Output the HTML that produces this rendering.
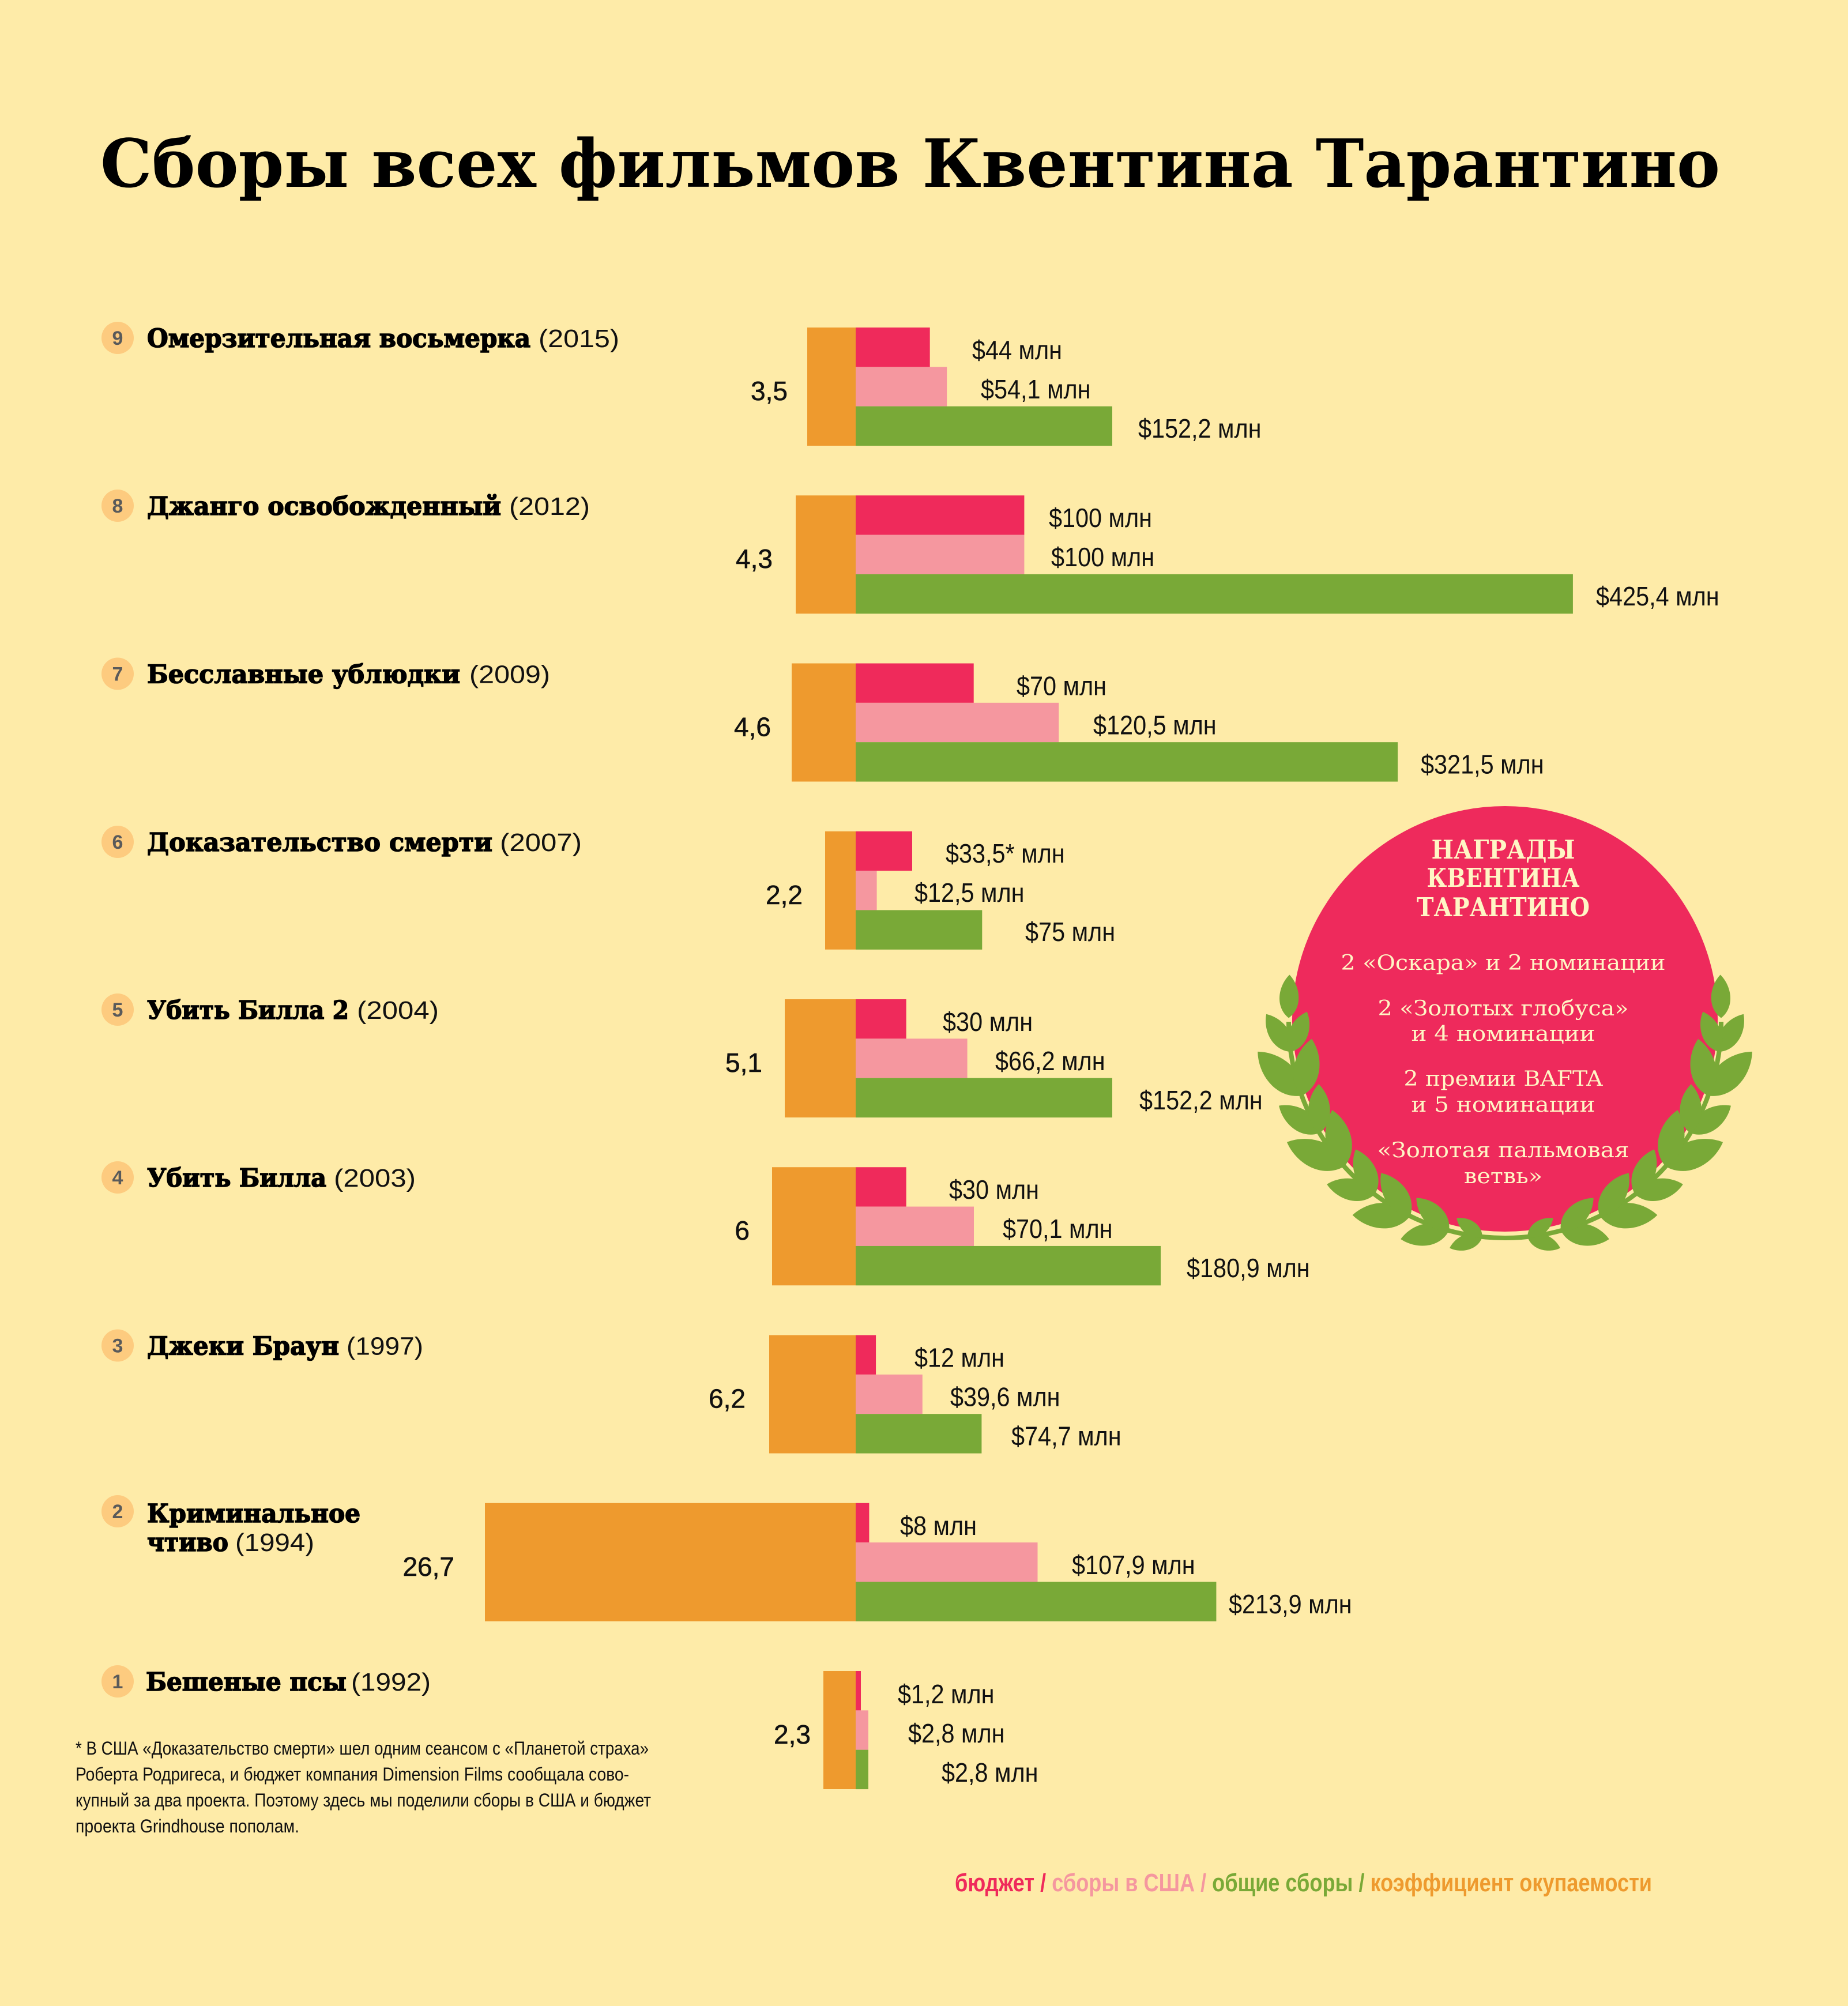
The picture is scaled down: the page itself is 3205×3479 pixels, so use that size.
<!DOCTYPE html>
<html lang="ru">
<head>
<meta charset="utf-8">
<style>
html,body{margin:0;padding:0;background:#FEEBA8;}
svg{display:block;}
.sans{font-family:"Liberation Sans","DejaVu Sans",sans-serif;}
.slab{font-family:"DejaVu Serif","Liberation Serif",serif;}
</style>
</head>
<body>
<svg xmlns="http://www.w3.org/2000/svg" xmlns:xlink="http://www.w3.org/1999/xlink" width="3205" height="3479" viewBox="0 0 3205 3479">
<defs>
<path id="lf" d="M0,0 C-32,24 -27,72 0,100 C27,72 32,24 0,0Z"/>
</defs>
<rect x="0" y="0" width="3205" height="3479" fill="#FEEBA8"/>

<!-- Title -->
<text class="slab" x="174" y="324" font-weight="bold" font-size="115" textLength="2809" lengthAdjust="spacingAndGlyphs" fill="#000">Сборы всех фильмов Квентина Тарантино</text>

<!-- Bars -->
<g>
<rect x="1400" y="568" width="84" height="205" fill="#EE9A2E"/>
<rect x="1484" y="568" width="128.7" height="68.4" fill="#EF2A5B"/>
<rect x="1484" y="636.33" width="158.2" height="68.4" fill="#F5979F"/>
<rect x="1484" y="704.67" width="445" height="68.4" fill="#79A937"/>

<rect x="1380" y="859.25" width="104" height="205" fill="#EE9A2E"/>
<rect x="1484" y="859.25" width="292.4" height="68.4" fill="#EF2A5B"/>
<rect x="1484" y="927.58" width="292.4" height="68.4" fill="#F5979F"/>
<rect x="1484" y="995.92" width="1243.9" height="68.4" fill="#79A937"/>

<rect x="1373" y="1150.5" width="111" height="205" fill="#EE9A2E"/>
<rect x="1484" y="1150.5" width="204.7" height="68.4" fill="#EF2A5B"/>
<rect x="1484" y="1218.83" width="352.3" height="68.4" fill="#F5979F"/>
<rect x="1484" y="1287.17" width="940.1" height="68.4" fill="#79A937"/>

<rect x="1431" y="1441.75" width="53" height="205" fill="#EE9A2E"/>
<rect x="1484" y="1441.75" width="98" height="68.4" fill="#EF2A5B"/>
<rect x="1484" y="1510.08" width="36.6" height="68.4" fill="#F5979F"/>
<rect x="1484" y="1578.42" width="219.3" height="68.4" fill="#79A937"/>

<rect x="1361" y="1733" width="123" height="205" fill="#EE9A2E"/>
<rect x="1484" y="1733" width="87.7" height="68.4" fill="#EF2A5B"/>
<rect x="1484" y="1801.33" width="193.6" height="68.4" fill="#F5979F"/>
<rect x="1484" y="1869.67" width="445" height="68.4" fill="#79A937"/>

<rect x="1339" y="2024.25" width="145" height="205" fill="#EE9A2E"/>
<rect x="1484" y="2024.25" width="87.7" height="68.4" fill="#EF2A5B"/>
<rect x="1484" y="2092.58" width="205" height="68.4" fill="#F5979F"/>
<rect x="1484" y="2160.92" width="529" height="68.4" fill="#79A937"/>

<rect x="1334" y="2315.5" width="150" height="205" fill="#EE9A2E"/>
<rect x="1484" y="2315.5" width="35.1" height="68.4" fill="#EF2A5B"/>
<rect x="1484" y="2383.83" width="115.8" height="68.4" fill="#F5979F"/>
<rect x="1484" y="2452.17" width="218.4" height="68.4" fill="#79A937"/>

<rect x="841" y="2606.75" width="643" height="205" fill="#EE9A2E"/>
<rect x="1484" y="2606.75" width="23.4" height="68.4" fill="#EF2A5B"/>
<rect x="1484" y="2675.08" width="315.5" height="68.4" fill="#F5979F"/>
<rect x="1484" y="2743.42" width="625.4" height="68.4" fill="#79A937"/>

<rect x="1428" y="2898" width="56" height="205" fill="#EE9A2E"/>
<rect x="1484" y="2898" width="9" height="68.4" fill="#EF2A5B"/>
<rect x="1484" y="2966.33" width="22" height="68.4" fill="#F5979F"/>
<rect x="1484" y="3034.67" width="22" height="68.4" fill="#79A937"/>
</g>

<!-- Coefficient labels -->
<g class="sans" font-size="46" fill="#111" text-anchor="end" stroke="#111" stroke-width="0.6">
<text x="1366" y="694">3,5</text>
<text x="1340" y="985">4,3</text>
<text x="1337" y="1276.5">4,6</text>
<text x="1392" y="1568">2,2</text>
<text x="1322" y="1859">5,1</text>
<text x="1300" y="2150">6</text>
<text x="1293" y="2441.5">6,2</text>
<text x="788" y="2733">26,7</text>
<text x="1406" y="3024">2,3</text>
</g>

<!-- Dollar labels -->
<g class="sans" font-size="46" fill="#111" transform="scale(0.9,1)">
<text x="1873.3" y="623">$44 млн</text>
<text x="1890" y="691">$54,1 млн</text>
<text x="2193.3" y="759">$152,2 млн</text>

<text x="2021.1" y="914">$100 млн</text>
<text x="2025.6" y="982">$100 млн</text>
<text x="3075.6" y="1050">$425,4 млн</text>

<text x="1958.9" y="1205.5">$70 млн</text>
<text x="2106.7" y="1273.5">$120,5 млн</text>
<text x="2737.8" y="1341.5">$321,5 млн</text>

<text x="1822.2" y="1496">$33,5* млн</text>
<text x="1762.2" y="1564">$12,5 млн</text>
<text x="1975.6" y="1632">$75 млн</text>

<text x="1816.7" y="1788">$30 млн</text>
<text x="1917.8" y="1856">$66,2 млн</text>
<text x="2195.6" y="1924">$152,2 млн</text>

<text x="1828.9" y="2079">$30 млн</text>
<text x="1932.2" y="2147">$70,1 млн</text>
<text x="2286.7" y="2215">$180,9 млн</text>

<text x="1762.2" y="2370.5">$12 млн</text>
<text x="1831.1" y="2438.5">$39,6 млн</text>
<text x="1948.9" y="2506.5">$74,7 млн</text>

<text x="1734.4" y="2662">$8 млн</text>
<text x="2065.6" y="2730">$107,9 млн</text>
<text x="2367.8" y="2798">$213,9 млн</text>

<text x="1730" y="2954">$1,2 млн</text>
<text x="1750" y="3022">$2,8 млн</text>
<text x="1814.4" y="3090">$2,8 млн</text>
</g>

<!-- Number circles -->
<g fill="#FDCB7F">
<circle cx="204" cy="586" r="28"/>
<circle cx="204" cy="877" r="28"/>
<circle cx="204" cy="1168.5" r="28"/>
<circle cx="204" cy="1460" r="28"/>
<circle cx="204" cy="1751" r="28"/>
<circle cx="204" cy="2042" r="28"/>
<circle cx="204" cy="2333.5" r="28"/>
<circle cx="204" cy="2621" r="28"/>
<circle cx="204" cy="2916" r="28"/>
</g>
<g class="sans" font-size="34" font-weight="bold" fill="#5A5A5A" text-anchor="middle">
<text x="204" y="598">9</text>
<text x="204" y="889">8</text>
<text x="204" y="1180.5">7</text>
<text x="204" y="1472">6</text>
<text x="204" y="1763">5</text>
<text x="204" y="2054">4</text>
<text x="204" y="2345.5">3</text>
<text x="204" y="2633">2</text>
<text x="204" y="2928">1</text>
</g>

<!-- Film titles -->
<g class="slab" font-size="44" font-weight="bold" fill="#000" stroke="#000" stroke-width="1.6">
<text x="255" y="602" textLength="665" lengthAdjust="spacingAndGlyphs">Омерзительная восьмерка</text>
<text x="255" y="893" textLength="614" lengthAdjust="spacingAndGlyphs">Джанго освобожденный</text>
<text x="255" y="1184.5" textLength="543" lengthAdjust="spacingAndGlyphs">Бесславные ублюдки</text>
<text x="255" y="1476" textLength="599" lengthAdjust="spacingAndGlyphs">Доказательство смерти</text>
<text x="255" y="1767" textLength="350" lengthAdjust="spacingAndGlyphs">Убить Билла 2</text>
<text x="255" y="2058" textLength="311" lengthAdjust="spacingAndGlyphs">Убить Билла</text>
<text x="255" y="2349.5" textLength="333" lengthAdjust="spacingAndGlyphs">Джеки Браун</text>
<text x="255" y="2640" textLength="370" lengthAdjust="spacingAndGlyphs">Криминальное</text>
<text x="255" y="2690" textLength="141" lengthAdjust="spacingAndGlyphs">чтиво</text>
<text x="253" y="2932" textLength="348" lengthAdjust="spacingAndGlyphs">Бешеные псы</text>
</g>
<g class="sans" font-size="44" fill="#111">
<text x="934" y="602" textLength="140" lengthAdjust="spacingAndGlyphs">(2015)</text>
<text x="883" y="893" textLength="140" lengthAdjust="spacingAndGlyphs">(2012)</text>
<text x="814" y="1184.5" textLength="140" lengthAdjust="spacingAndGlyphs">(2009)</text>
<text x="867" y="1476" textLength="142" lengthAdjust="spacingAndGlyphs">(2007)</text>
<text x="619" y="1767" textLength="142" lengthAdjust="spacingAndGlyphs">(2004)</text>
<text x="579" y="2058" textLength="142" lengthAdjust="spacingAndGlyphs">(2003)</text>
<text x="601" y="2349.5" textLength="133" lengthAdjust="spacingAndGlyphs">(1997)</text>
<text x="408" y="2690" textLength="137" lengthAdjust="spacingAndGlyphs">(1994)</text>
<text x="609" y="2932" textLength="138" lengthAdjust="spacingAndGlyphs">(1992)</text>
</g>

<!-- Awards circle -->
<circle cx="2610" cy="1767" r="369" fill="#EE2A5C"/>

<g id="branch" fill="#79A937">
<path d="M2235,1772 A375,375 0 0 0 2610,2147" fill="none" stroke="#79A937" stroke-width="8"/>
<use xlink:href="#lf" href="#lf" transform="translate(2610 1772) rotate(181) translate(375 0) scale(0.75)"/>
<use xlink:href="#lf" href="#lf" transform="translate(2610 1772) rotate(172) translate(375 0) rotate(-25) scale(0.78)"/>
<use xlink:href="#lf" href="#lf" transform="translate(2610 1772) rotate(172) translate(375 0) rotate(30) scale(0.75)"/>
<use xlink:href="#lf" href="#lf" transform="translate(2610 1772) rotate(160) translate(375 0) rotate(-25) scale(1.08)"/>
<use xlink:href="#lf" href="#lf" transform="translate(2610 1772) rotate(160) translate(375 0) rotate(30) scale(1.0)"/>
<use xlink:href="#lf" href="#lf" transform="translate(2610 1772) rotate(149) translate(375 0) rotate(-25) scale(0.85)"/>
<use xlink:href="#lf" href="#lf" transform="translate(2610 1772) rotate(149) translate(375 0) rotate(30) scale(0.85)"/>
<use xlink:href="#lf" href="#lf" transform="translate(2610 1772) rotate(138) translate(375 0) rotate(-25) scale(1.08)"/>
<use xlink:href="#lf" href="#lf" transform="translate(2610 1772) rotate(138) translate(375 0) rotate(30) scale(1.0)"/>
<use xlink:href="#lf" href="#lf" transform="translate(2610 1772) rotate(127) translate(375 0) rotate(-25) scale(0.85)"/>
<use xlink:href="#lf" href="#lf" transform="translate(2610 1772) rotate(127) translate(375 0) rotate(30) scale(0.85)"/>
<use xlink:href="#lf" href="#lf" transform="translate(2610 1772) rotate(116) translate(375 0) rotate(-25) scale(1.0)"/>
<use xlink:href="#lf" href="#lf" transform="translate(2610 1772) rotate(116) translate(375 0) rotate(30) scale(0.9)"/>
<use xlink:href="#lf" href="#lf" transform="translate(2610 1772) rotate(105) translate(375 0) rotate(-25) scale(0.85)"/>
<use xlink:href="#lf" href="#lf" transform="translate(2610 1772) rotate(105) translate(375 0) rotate(30) scale(0.8)"/>
<use xlink:href="#lf" href="#lf" transform="translate(2610 1772) rotate(96) translate(375 0) rotate(-25) scale(0.6)"/>
<use xlink:href="#lf" href="#lf" transform="translate(2610 1772) rotate(96) translate(375 0) rotate(30) scale(0.55)"/>
</g>
<use xlink:href="#branch" href="#branch" transform="matrix(-1 0 0 1 5220 0)"/>

<g class="slab" fill="#FFF6C5" text-anchor="middle">
<g font-size="45" font-weight="bold">
<text x="2607" y="1489" textLength="249" lengthAdjust="spacingAndGlyphs">НАГРАДЫ</text>
<text x="2607" y="1538" textLength="265" lengthAdjust="spacingAndGlyphs">КВЕНТИНА</text>
<text x="2607" y="1589" textLength="300" lengthAdjust="spacingAndGlyphs">ТАРАНТИНО</text>
</g>
<g font-size="36">
<text x="2607" y="1682" textLength="563" lengthAdjust="spacingAndGlyphs">2 «Оскара» и 2 номинации</text>
<text x="2607" y="1761" textLength="435" lengthAdjust="spacingAndGlyphs">2 «Золотых глобуса»</text>
<text x="2607" y="1805" textLength="319" lengthAdjust="spacingAndGlyphs">и 4 номинации</text>
<text x="2607" y="1883" textLength="345" lengthAdjust="spacingAndGlyphs">2 премии BAFTA</text>
<text x="2607" y="1928" textLength="319" lengthAdjust="spacingAndGlyphs">и 5 номинации</text>
<text x="2607" y="2007" textLength="437" lengthAdjust="spacingAndGlyphs">«Золотая пальмовая</text>
<text x="2607" y="2052" textLength="136" lengthAdjust="spacingAndGlyphs">ветвь»</text>
</g>
</g>

<!-- Footnote -->
<g class="sans" font-size="32" fill="#111">
<text x="131" y="3043" textLength="994" lengthAdjust="spacingAndGlyphs">* В США «Доказательство смерти» шел одним сеансом с «Планетой страха»</text>
<text x="131" y="3088" textLength="960" lengthAdjust="spacingAndGlyphs">Роберта Родригеса, и бюджет компания Dimension Films сообщала сово-</text>
<text x="131" y="3133" textLength="998" lengthAdjust="spacingAndGlyphs">купный за два проекта. Поэтому здесь мы поделили сборы в США и бюджет</text>
<text x="131" y="3178" textLength="388" lengthAdjust="spacingAndGlyphs">проекта Grindhouse пополам.</text>
</g>

<!-- Legend -->
<text class="sans" x="1656" y="3280" font-size="44" font-weight="bold" textLength="1209" lengthAdjust="spacingAndGlyphs"><tspan fill="#EF2A5B">бюджет / </tspan><tspan fill="#F5979F">сборы в США / </tspan><tspan fill="#79A937">общие сборы / </tspan><tspan fill="#EE9A2E">коэффициент окупаемости</tspan></text>
</svg>
</body>
</html>
